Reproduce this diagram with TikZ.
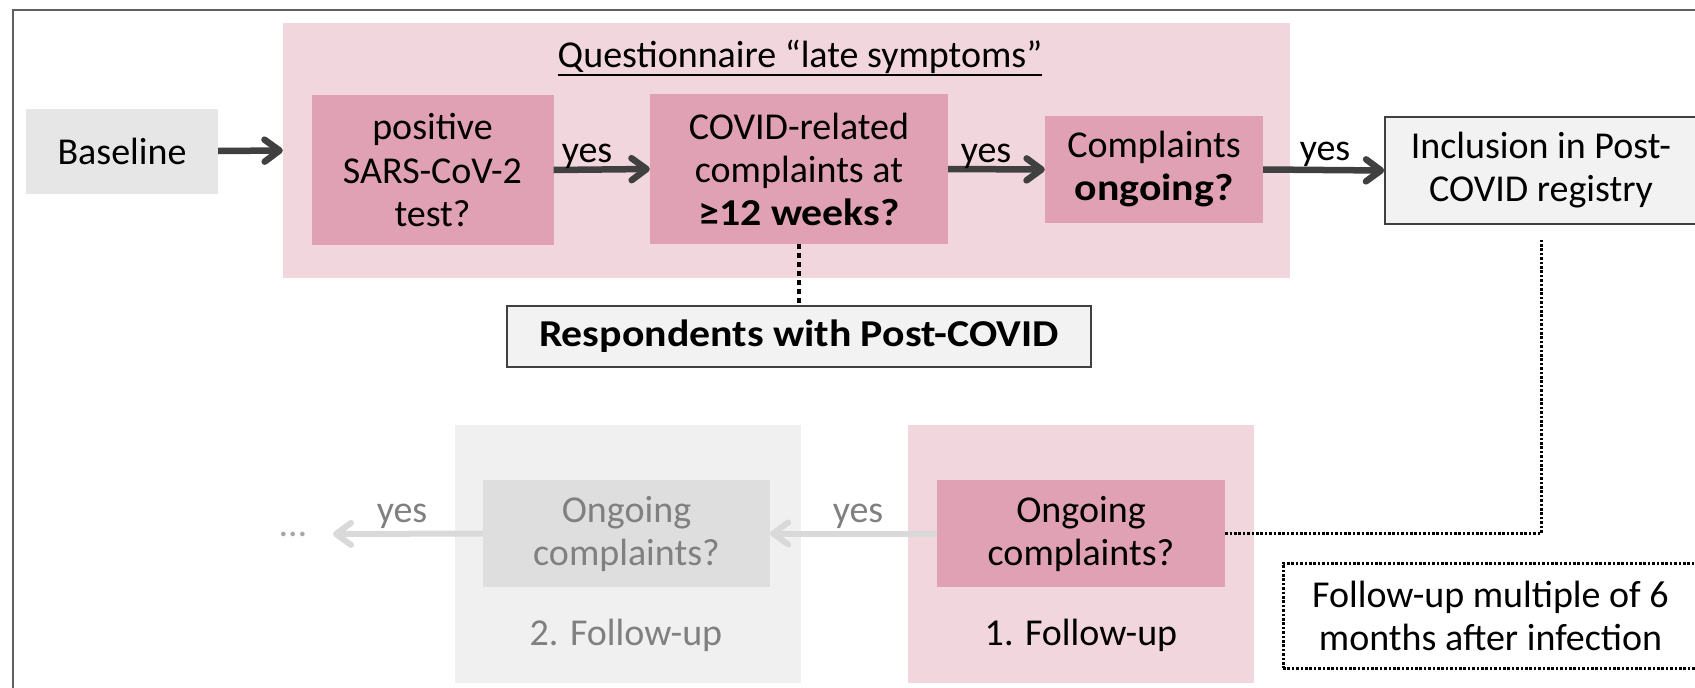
\documentclass[tikz,border=0pt]{standalone}
\usepackage{fontspec}
\setmainfont{Carlito}[BoldFeatures={FakeStretch=1.1}]
\usetikzlibrary{arrows.meta}
\definecolor{pinkbg}{HTML}{F2D6DE}
\definecolor{pinkbox}{HTML}{E1A1B4}
\definecolor{greybase}{HTML}{E6E6E6}
\definecolor{greyfill}{HTML}{F2F2F2}
\definecolor{darkarrow}{HTML}{404040}
\definecolor{lightarrow}{HTML}{D9D9D9}
\definecolor{fadetext}{HTML}{808080}
\definecolor{fadebg}{HTML}{F0F0F0}
\definecolor{fadebox}{HTML}{DEDEDE}
\definecolor{framecol}{HTML}{606060}
\definecolor{dotcol}{HTML}{A6A6A6}
\begin{document}
\begin{tikzpicture}[x=1pt,y=-1pt,
  every node/.style={font=\fontsize{38}{43}\selectfont, inner sep=0pt, align=center},
  region/.style={rectangle, fill=#1},
  qbox/.style={rectangle, fill=pinkbox, text=black},
  outlinebox/.style={rectangle, fill=greyfill, draw=darkarrow, line width=1.5pt},
  fadedbox/.style={rectangle, fill=fadebox, text=fadetext},
  darkarr/.style={draw=darkarrow, line width=6.5pt, -{Straight Barb[length=15pt,width=22pt,round]}},
  lightarr/.style={draw=lightarrow, line width=6pt, -{Straight Barb[length=15pt,width=22pt,round]}},
  yeslabel/.style={anchor=base, text=black},
  fadeyes/.style={anchor=base, text=fadetext},
  thindot/.style={draw=black, line width=3pt, dash pattern=on 2.6pt off 1.8pt},
  thickdot/.style={draw=black, line width=4.5pt, dash pattern=on 4.5pt off 4.5pt},
]
\useasboundingbox (0,0) rectangle (1695,688);
\clip (0,0) rectangle (1695,688);
\fill[white] (0,0) rectangle (1695,688);
\draw[framecol, line width=2pt] (12.5,720) -- (12.5,9.5) -- (1720,9.5);

% background regions
\node[region=pinkbg, minimum width=1007pt, minimum height=255pt] (quest) at (786.5,150.5) {};
\node[region=pinkbg, minimum width=346pt, minimum height=258pt] (fu1) at (1081,554) {};
\node[region=fadebg, minimum width=346pt, minimum height=258pt] (fu2) at (628,554) {};

% title
\node[anchor=base] (qtitle) at (800,67) {Questionnaire “late symptoms”};
\draw[black, line width=1.8pt] ([yshift=-8pt]qtitle.base west) -- ([yshift=-8pt]qtitle.base east);

% top row
\node[region=greybase, minimum width=192pt, minimum height=85pt] (base) at (122,151) {Baseline};
\node[qbox, minimum width=242pt, minimum height=150pt] (pos) at (432.5,170) {positive\\SARS-CoV-2\\test?};
\node[qbox, minimum width=298pt, minimum height=150pt] (covid) at (799,169) {COVID-related\\complaints at\\\textbf{≥12 weeks?}};
\node[qbox, minimum width=218pt, minimum height=107pt] (compl) at (1154,169.5) {Complaints\\\textbf{ongoing?}};
\node[outlinebox, minimum width=312pt, minimum height=107pt] (incl) at (1541,170.5) {Inclusion in Post-\\COVID registry};
\node[outlinebox, minimum width=584pt, minimum height=61pt] (resp) at (799,336.5) {\textbf{Respondents with Post-COVID}};

\draw[darkarr] (base.east) -- (quest.west);
\draw[darkarr] (pos.east) -- (covid.west);
\draw[darkarr] (covid.east) -- (compl.west);
\draw[darkarr] (compl.east) -- (incl.west);
\node[yeslabel] (y1) at (587,162) {yes};
\node[yeslabel] (y2) at (986,162) {yes};
\node[yeslabel] (y3) at (1325,160) {yes};

\draw[thickdot] (covid.south) -- (resp.north);

% bottom row
\node[qbox, minimum width=288pt, minimum height=107pt] (fu1in) at (1081,533.5) {Ongoing\\complaints?};
\node[anchor=base, text=black] (fu1lab) at (1081,645) {1. Follow-up};
\node[fadedbox, minimum width=287pt, minimum height=107pt] (fu2in) at (626.5,533.5) {Ongoing\\complaints?};
\node[anchor=base, text=fadetext] (fu2lab) at (626,645) {2. Follow-up};
\node[anchor=base, text=dotcol] (dots) at (293,536) {…};
\coordinate (dotsend) at (333,534);

\draw[lightarr] (fu1in.west) -- (fu2in.east);
\draw[lightarr] (fu2in.west) -- (dotsend);
\node[fadeyes] (y4) at (858,522) {yes};
\node[fadeyes] (y5) at (402,522) {yes};

\draw[thindot, shorten >=13pt] (fu1in.east) -| (incl.south);

\node[rectangle, fill=white, thindot, minimum width=415pt, minimum height=105pt] (note) at (1490.5,615.5) {Follow-up multiple of 6\\months after infection};
\end{tikzpicture}
\end{document}
